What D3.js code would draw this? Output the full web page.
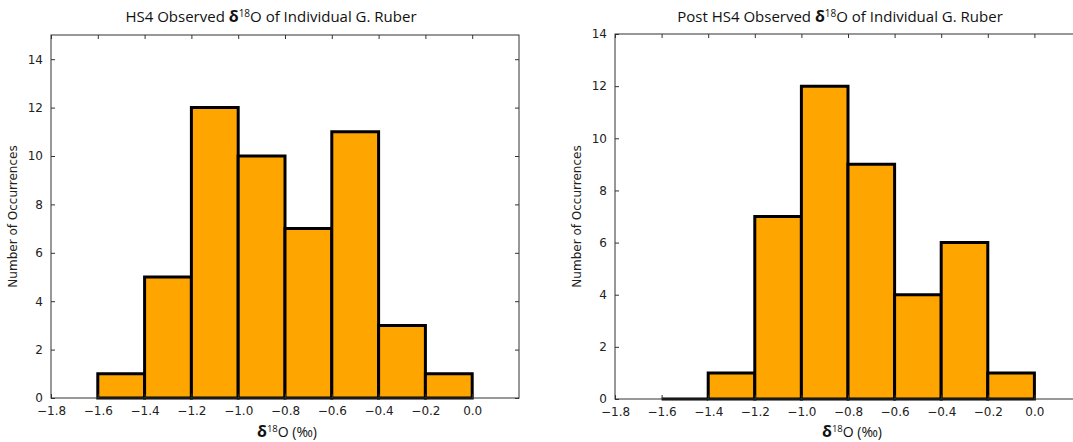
<!DOCTYPE html>
<html>
<head>
<meta charset="utf-8">
<script src="https://cdn.jsdelivr.net/npm/d3@7"></script>
<style>
  html, body { margin: 0; padding: 0; background: #fff; }
  svg { display: block; }
  .tick text { font-family: "DejaVu Sans", sans-serif; font-size: 12px; fill: #222; }
</style>
</head>
<body>
<svg id="chart" width="1073" height="442"></svg>
<script>
// Histogram bin edges (per mil) shared by both panels
const binStarts = [-1.6, -1.4, -1.2, -1.0, -0.8, -0.6, -0.4, -0.2];
const binWidth = 0.2;

// Counts per bin
const hs4Counts = [1, 5, 12, 10, 7, 11, 3, 1];
const postHs4Counts = [0, 1, 7, 12, 9, 4, 6, 1];

// Axis ticks
const xTicks = [-1.8, -1.6, -1.4, -1.2, -1.0, -0.8, -0.6, -0.4, -0.2, 0.0];
const yTicks = [0, 2, 4, 6, 8, 10, 12, 14];

const panels = [
  { title: "HS4 Observed ", counts: hs4Counts, yMax: 15,
    left: 51, right: 519, top: 35, bottom: 398, titleX: 271, titleY: 22, xLabelX: 287 },
  { title: "Post HS4 Observed ", counts: postHs4Counts, yMax: 14,
    left: 615, right: 1081, top: 34, bottom: 399, titleX: 840, titleY: 22, xLabelX: 852 }
];

const svg = d3.select("#chart");
const fmt = d => (d < 0 ? "\u2212" : "") + Math.abs(d).toFixed(1);

panels.forEach(p => {
  const x = d3.scaleLinear().domain([-1.8, 0.2]).range([p.left, p.right]);
  const y = d3.scaleLinear().domain([0, p.yMax]).range([p.bottom, p.top]);
  const g = svg.append("g");

  // bars as closed paths so empty bins still show their outline on the baseline
  g.selectAll("path.bar")
    .data(binStarts.map((s, i) => ({ s, c: p.counts[i] })))
    .join("path")
    .attr("class", "bar")
    .attr("d", d => {
      const x0 = x(d.s), x1 = x(d.s + binWidth), y0 = y(0), y1 = y(d.c);
      return `M${x0},${y0}L${x0},${y1}L${x1},${y1}L${x1},${y0}Z`;
    })
    .attr("fill", "#FFA500")
    .attr("stroke", "#000")
    .attr("stroke-width", 3)
    .attr("stroke-linejoin", "miter");

  // inward ticks on all four sides
  const tickLen = 4;
  const bottomAxis = d3.axisBottom(x).tickValues(xTicks).tickFormat(fmt)
    .tickSizeInner(-tickLen).tickSizeOuter(0).tickPadding(8);
  const leftAxis = d3.axisLeft(y).tickValues(yTicks).tickFormat(d3.format("d"))
    .tickSizeInner(-tickLen).tickSizeOuter(0).tickPadding(8);
  const topAxis = d3.axisTop(x).tickValues(xTicks).tickFormat("")
    .tickSizeInner(-tickLen).tickSizeOuter(0);
  const rightAxis = d3.axisRight(y).tickValues(yTicks).tickFormat("")
    .tickSizeInner(-tickLen).tickSizeOuter(0);

  [
    [bottomAxis, `translate(0,${p.bottom})`],
    [leftAxis, `translate(${p.left},0)`],
    [topAxis, `translate(0,${p.top})`],
    [rightAxis, `translate(${p.right},0)`]
  ].forEach(([ax, tr]) => {
    const a = g.append("g").attr("transform", tr).call(ax);
    a.select(".domain").remove();
    a.selectAll(".tick line").attr("stroke", "#333");
  });

  // frame
  g.append("rect")
    .attr("x", p.left).attr("y", p.top)
    .attr("width", p.right - p.left).attr("height", p.bottom - p.top)
    .attr("fill", "none").attr("stroke", "#333").attr("stroke-width", 1);

  // title
  const t = g.append("text")
    .attr("x", p.titleX).attr("y", p.titleY)
    .attr("text-anchor", "middle")
    .attr("font-family", "'Open Sans', sans-serif")
    .attr("font-size", 15)
    .attr("fill", "#111");
  t.append("tspan").text(p.title);
  t.append("tspan").attr("font-weight", "bold").attr("font-size", 16).text("\u03b4");
  t.append("tspan").attr("font-size", 10).attr("dy", -5).text("18");
  t.append("tspan").attr("dy", 5).text("O of Individual G. Ruber");

  // x label
  const xl = g.append("text")
    .attr("x", p.xLabelX).attr("y", 437)
    .attr("text-anchor", "middle")
    .attr("font-family", "'Open Sans', sans-serif")
    .attr("font-size", 14)
    .attr("fill", "#111");
  xl.append("tspan").attr("font-weight", "bold").attr("font-size", 16).text("\u03b4");
  xl.append("tspan").attr("font-size", 9.5).attr("dy", -5).text("18");
  xl.append("tspan").attr("dy", 5).text("O (\u2030)");

  // y label
  g.append("text")
    .attr("transform", `translate(${p.left - 34},${(p.top + p.bottom) / 2}) rotate(-90)`)
    .attr("text-anchor", "middle")
    .attr("font-family", "'DejaVu Sans', sans-serif")
    .attr("font-size", 12)
    .attr("fill", "#222")
    .text("Number of Occurrences");
});
</script>
</body>
</html>
